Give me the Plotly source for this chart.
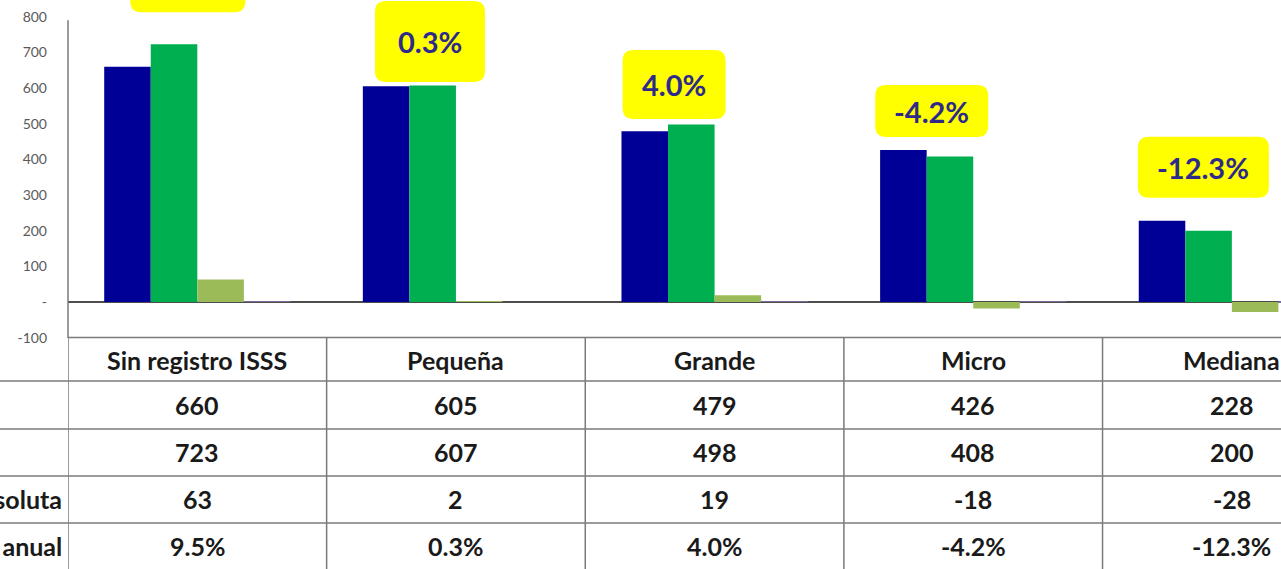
import plotly.graph_objects as go

# ---------------- data ----------------
categories = ["Sin registro ISSS", "Pequeña", "Grande", "Micro", "Mediana"]
serie_1 = [660, 605, 479, 426, 228]
serie_2 = [723, 607, 498, 408, 200]
var_absoluta = [63, 2, 19, -18, -28]
var_anual = [9.5, 0.3, 4.0, -4.2, -12.3]  # percent
row_labels = ["", "", "Variación absoluta", "Variación anual"]
y_tickvals = [-100, 0, 100, 200, 300, 400, 500, 600, 700, 800]
y_ticktext = ["-100", "-", "100", "200", "300", "400", "500", "600", "700", "800"]

# ---------------- layout constants ----------------
W, H = 1281, 569
ML, MR, MT, MB = 68, 0, 0, 231
X_RANGE = [-0.5, 4.19]
Y_RANGE = [-101, 847]
PLOT_W = W - ML - MR
PLOT_H = H - MT - MB
X_PX = PLOT_W / (X_RANGE[1] - X_RANGE[0])
Y_PX = PLOT_H / (Y_RANGE[1] - Y_RANGE[0])

COL_BLUE = "#000096"
COL_GREEN = "#00B050"
COL_OLIVE = "#9BBB59"
COL_PURPLE = "#7F6A9E"
LABEL_COLOR = "#2E2A8C"
GRID_COLOR = "#7a7a7a"
FONT = "Lato"
TABLE_SIZE = 25

# label box style: (left px, right px rel. to category centre, gap above bars px, height px)
BOX_STYLE = [(-67, 48, 32, 62), (-81, 29, 3.5, 81), (-92, 11, 5.5, 69),
             (-98, 15, 13, 52), (-94, 37, 23, 61)]

fig = go.Figure()
x_idx = list(range(len(categories)))
for name, vals, col in [("Serie 1", serie_1, COL_BLUE), ("Serie 2", serie_2, COL_GREEN),
                        ("Variación absoluta", var_absoluta, COL_OLIVE),
                        ("Variación anual", [v / 100 for v in var_anual], COL_PURPLE)]:
    fig.add_trace(go.Bar(x=x_idx, y=vals, name=name, marker=dict(color=col, line=dict(width=0))))


def rounded_path(x0, x1, y0, y1, r):
    rx, ry = r / X_PX, r / Y_PX
    return (f"M {x0+rx},{y0} L {x1-rx},{y0} Q {x1},{y0} {x1},{y0+ry} "
            f"L {x1},{y1-ry} Q {x1},{y1} {x1-rx},{y1} L {x0+rx},{y1} "
            f"Q {x0},{y1} {x0},{y1-ry} L {x0},{y0+ry} Q {x0},{y0} {x0+rx},{y0} Z")


shapes = []
annotations = []
for i, (a, b, pct) in enumerate(zip(serie_1, serie_2, var_anual)):
    lp, rp, gap, hp = BOX_STYLE[i]
    x0 = i + lp / X_PX
    x1 = i + rp / X_PX
    y0 = max(a, b) + gap / Y_PX
    y1 = y0 + hp / Y_PX
    shapes.append(dict(type="path", path=rounded_path(x0, x1, y0, y1, 11), xref="x", yref="y",
                       fillcolor="#FFFF00", line=dict(width=0), layer="above"))
    annotations.append(dict(x=(x0 + x1) / 2, y=(y0 + y1) / 2, xref="x", yref="y",
                            xanchor="center", yanchor="middle",
                            text=f"<b>{pct:.1f}%</b>", showarrow=False,
                            font=dict(family=FONT, size=29, color=LABEL_COLOR)))


def py2paper(py):
    return (PLOT_H + MT - py) / PLOT_H


# y-axis line
shapes.append(dict(type="line", xref="paper", yref="y", x0=0, x1=0, y0=Y_RANGE[0], y1=790,
                   line=dict(color=GRID_COLOR, width=1.5)))
# table horizontal lines
row_lines_px = [337.5, 381, 429, 476, 523]
for k, py in enumerate(row_lines_px):
    shapes.append(dict(type="line", xref="paper", yref="paper",
                       x0=0 if k == 0 else -ML / PLOT_W, x1=1,
                       y0=py2paper(py), y1=py2paper(py), line=dict(color=GRID_COLOR, width=1.5)))
# table vertical lines
for k in range(len(categories)):
    shapes.append(dict(type="line", xref="x", yref="paper", x0=k - 0.5, x1=k - 0.5,
                       y0=py2paper(337.5), y1=py2paper(H + 5), line=dict(color=GRID_COLOR, width=1.5)))

# table text
row_centers_px = [360, 405, 452, 499, 546]
table_rows = [categories,
              [f"{v:,}" for v in serie_1],
              [f"{v:,}" for v in serie_2],
              [f"{v}" for v in var_absoluta],
              [f"{v:.1f}%" for v in var_anual]]
for r, row in enumerate(table_rows):
    for i, txt in enumerate(row):
        annotations.append(dict(x=i, y=py2paper(row_centers_px[r]), xref="x", yref="paper",
                                xanchor="center", yanchor="middle",
                                text=f"<b>{txt}</b>", showarrow=False,
                                font=dict(family=FONT, size=TABLE_SIZE, color="#1a1a1a")))
for r, lab in enumerate(row_labels):
    if lab:
        annotations.append(dict(x=-4 / PLOT_W, y=py2paper(row_centers_px[r + 1]), xref="paper",
                                yref="paper", xanchor="right", yanchor="middle",
                                text=f"<b>{lab}</b>", showarrow=False,
                                font=dict(family=FONT, size=TABLE_SIZE, color="#1a1a1a")))

fig.update_layout(
    width=W, height=H, margin=dict(l=ML, r=MR, t=MT, b=MB, pad=0),
    paper_bgcolor="white", plot_bgcolor="white",
    barmode="group", bargap=0.28, bargroupgap=0,
    showlegend=False,
    xaxis=dict(range=X_RANGE, showticklabels=False, showgrid=False, zeroline=False,
               showline=False, ticks=""),
    yaxis=dict(range=Y_RANGE, tickvals=y_tickvals, ticktext=y_ticktext, showgrid=False,
               zeroline=True, zerolinecolor="#4d4d4d", zerolinewidth=1.5, showline=False,
               ticks="", ticklabelstandoff=20,
               tickfont=dict(family=FONT, size=14, color="#5a5a5a")),
    shapes=shapes, annotations=annotations,
)

fig.write_html("out.html", config={"displayModeBar": False},
               post_script="document.body.style.margin='0';document.body.style.overflow='hidden';")
